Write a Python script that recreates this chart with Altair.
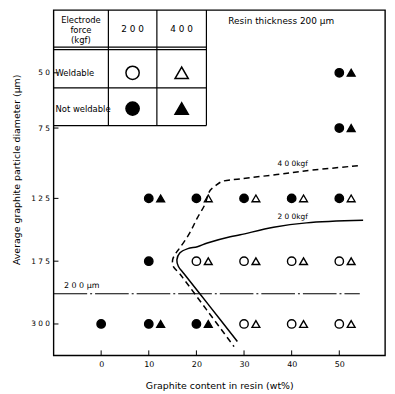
import altair as alt
import pandas as pd

FONT = "DejaVu Sans"

# ---- data ----
diam_labels = [50, 75, 125, 175, 300]          # average graphite particle diameter (µm), axis categories
diam_axis_pos = [1.0, 1.88, 3.0, 4.0, 5.0]      # where the original (non-uniform) axis puts each category
x_ticks = [0, 10, 20, 30, 40, 50]               # graphite content (wt%)

pt_content = [50, 50, 10, 20, 30, 40, 50, 10, 20, 30, 40, 50, 0, 10, 20, 30, 40, 50]
pt_diam = [50, 75, 125, 125, 125, 125, 125, 175, 175, 175, 175, 175, 300, 300, 300, 300, 300, 300]
weld_200 = ["N", "N", "N", "N", "N", "N", "N", "N", "Y", "Y", "Y", "Y", "N", "N", "N", "Y", "Y", "Y"]
weld_400 = ["N", "N", "N", "Y", "Y", "Y", "Y", "", "Y", "Y", "Y", "Y", "", "N", "N", "Y", "Y", "Y"]

# boundary curves: content (wt%) vs diameter axis position
kgf400_x = [53.9, 43.1, 36.9, 29.2, 25.4, 24.0, 22.9, 22.3, 21.7, 20.2, 18.6, 16.7, 15.7, 15.0, 15.2,
            16.4, 17.6, 22.2, 27.9]
kgf400_y = [2.48, 2.56, 2.62, 2.69, 2.73, 2.80, 2.87, 2.98, 3.11, 3.31, 3.55, 3.77, 3.87, 3.98, 4.09,
            4.19, 4.31, 4.78, 5.36]
kgf200_x = [55.0, 43.1, 36.2, 29.2, 27.1, 22.3, 20.2, 18.2, 16.5, 15.9, 16.2, 17.4, 22.4, 28.6]
kgf200_y = [3.35, 3.39, 3.46, 3.58, 3.61, 3.71, 3.77, 3.80, 3.87, 3.98, 4.08, 4.20, 4.68, 5.28]

resin_line_y = 4.52
resin_line_x = [-10, 54.3]

# legend table (in data units)
table_cols = [1.52, 11.7, 22.1]
table_rows = [0.59, 0.63, 1.24, 1.84]
table_col_centers = [6.6, 16.9]
table_row_centers = [1.0, 1.57]

X_DOM = [-10, 59.6]
Y_DOM = [0, 5.5]
W, H = 335, 349

pos = dict(zip(diam_labels, diam_axis_pos))
pts = pd.DataFrame({"c": pt_content, "yi": [pos[d] for d in pt_diam],
                    "w200": weld_200, "w400": weld_400})

xs = alt.Scale(domain=X_DOM, nice=False, zero=False)
ys = alt.Scale(domain=Y_DOM, nice=False, zero=False, reverse=True)

y_expr = ""
for p, d in zip(diam_axis_pos, diam_labels):
    y_expr += f"abs(datum.value - {p}) < 0.01 ? '{' '.join(str(d))}' : "
y_expr += "''"

base = alt.Chart(pts)

X = alt.X("c:Q", scale=xs, axis=alt.Axis(values=x_ticks, title="Graphite content in resin (wt%)",
                                           labelFontSize=8, labelPadding=5, titlePadding=12,
                                           titleFontSize=9.5, titleFontWeight="normal"))
Y = alt.Y("yi:Q", scale=ys, axis=alt.Axis(values=diam_axis_pos, labelExpr=y_expr,
                                            title="Average graphite particle diameter (μm)",
                                            labelFontSize=7.5, labelPadding=4,
                                            titleFontSize=9.5, titleFontWeight="normal",
                                            titleX=-32, titleY=161))

circles = base.mark_point(shape="circle", size=72, filled=True, stroke="black",
                          strokeWidth=1.4, opacity=1).encode(
    x=X, y=Y,
    fill=alt.condition("datum.w200 == 'Y'", alt.value("white"), alt.value("black")))

tris = base.transform_filter("datum.w400 != ''").mark_point(
    shape="triangle-up", size=62, filled=True, stroke="black", strokeWidth=1.4,
    opacity=1, xOffset=12).encode(
    x=alt.X("c:Q", scale=xs), y=alt.Y("yi:Q", scale=ys),
    fill=alt.condition("datum.w400 == 'Y'", alt.value("white"), alt.value("black")))

c400 = pd.DataFrame({"x": kgf400_x, "y": kgf400_y, "o": range(len(kgf400_x))})
c200 = pd.DataFrame({"x": kgf200_x, "y": kgf200_y, "o": range(len(kgf200_x))})
line400 = alt.Chart(c400).mark_line(color="black", strokeWidth=1.5, strokeDash=[6, 4],
                                   interpolate="catmull-rom").encode(
    x=alt.X("x:Q", scale=xs), y=alt.Y("y:Q", scale=ys), order="o:Q")
line200 = alt.Chart(c200).mark_line(color="black", strokeWidth=1.5,
                                   interpolate="catmull-rom").encode(
    x=alt.X("x:Q", scale=xs), y=alt.Y("y:Q", scale=ys), order="o:Q")

resin = alt.Chart(pd.DataFrame({"x": [resin_line_x[0]], "x2": [resin_line_x[1]], "y": [resin_line_y]})).mark_rule(
    color="black", strokeWidth=1.1, strokeDash=[34, 3, 2, 3]).encode(
    x=alt.X("x:Q", scale=xs), x2="x2:Q", y=alt.Y("y:Q", scale=ys))

# table lines
vlines = alt.Chart(pd.DataFrame({"x": table_cols, "y": [Y_DOM[0]] * 3, "y2": [table_rows[-1]] * 3})).mark_rule(
    color="black", strokeWidth=1.2).encode(
    x=alt.X("x:Q", scale=xs), y=alt.Y("y:Q", scale=ys), y2="y2:Q")
hlines = alt.Chart(pd.DataFrame({"y": table_rows, "x": [X_DOM[0]] * 4, "x2": [table_cols[-1]] * 4})).mark_rule(
    color="black", strokeWidth=1.2).encode(
    y=alt.Y("y:Q", scale=ys), x=alt.X("x:Q", scale=xs), x2="x2:Q")

head = alt.Chart(pd.DataFrame({"x": [(X_DOM[0] + table_cols[0]) / 2], "y": [0.16],
                               "t": ["Electrode\nforce\n(kgf)"]})).mark_text(
    font=FONT, fontSize=8.5, lineBreak="\n", lineHeight=10, baseline="middle", color="black").encode(
    x=alt.X("x:Q", scale=xs), y=alt.Y("y:Q", scale=ys), text="t:N")
forces = alt.Chart(pd.DataFrame({"x": table_col_centers, "y": [0.3, 0.3], "t": ["2 0 0", "4 0 0"]})).mark_text(
    font=FONT, fontSize=9, color="black").encode(
    x=alt.X("x:Q", scale=xs), y=alt.Y("y:Q", scale=ys), text="t:N")
rowlab = alt.Chart(pd.DataFrame({"x": [X_DOM[0], X_DOM[0]], "y": table_row_centers,
                                 "t": ["Weldable", "Not weldable"]})).mark_text(
    font=FONT, fontSize=8.5, align="left", dx=2, color="black").encode(
    x=alt.X("x:Q", scale=xs), y=alt.Y("y:Q", scale=ys), text="t:N")

sym = pd.DataFrame({
    "x": [table_col_centers[0], table_col_centers[1], table_col_centers[0], table_col_centers[1]],
    "y": [table_row_centers[0], table_row_centers[0], table_row_centers[1], table_row_centers[1]],
    "s": ["circle", "triangle-up", "circle", "triangle-up"],
    "f": ["white", "white", "black", "black"]})
legsym = alt.Chart(sym).mark_point(size=180, filled=True, stroke="black", strokeWidth=1.5, opacity=1).encode(
    x=alt.X("x:Q", scale=xs), y=alt.Y("y:Q", scale=ys),
    shape=alt.Shape("s:N", scale=None), fill=alt.Fill("f:N", scale=None))

notes = alt.Chart(pd.DataFrame({
    "x": [26.7, -7.8, 37.0, 37.0],
    "y": [0.18, 4.40, 2.45, 3.30],
    "t": ["Resin thickness  200 μm", "2 0 0 μm", "4 0 0kgf", "2 0 0kgf"],
    "fs": [9, 8, 7.5, 7.5]})).mark_text(font=FONT, align="left", color="black").encode(
    x=alt.X("x:Q", scale=xs), y=alt.Y("y:Q", scale=ys), text="t:N",
    size=alt.Size("fs:Q", scale=None))

# inward ticks
ytk = alt.Chart(pd.DataFrame({"y": diam_axis_pos})).mark_rule(color="black", strokeWidth=1).encode(
    y=alt.Y("y:Q", scale=ys), x=alt.value(0), x2=alt.value(5))
xtk = alt.Chart(pd.DataFrame({"x": x_ticks})).mark_rule(color="black", strokeWidth=1).encode(
    x=alt.X("x:Q", scale=xs), y=alt.value(H), y2=alt.value(H - 5))

chart = alt.layer(circles, tris, line400, line200, resin, vlines, hlines, head, forces,
                  rowlab, legsym, notes, ytk, xtk).properties(
    width=W, height=H,
    autosize=alt.AutoSizeParams(type="none"),
    padding={"left": 46, "top": 0, "right": 2, "bottom": 36},
).configure_view(stroke="black", strokeWidth=1.4).configure_axis(
    grid=False, ticks=False, domain=False, labelFont=FONT, titleFont=FONT,
    labelColor="black", titleColor="black")

chart.save("out.html", embed_options={"renderer": "svg", "actions": False})
